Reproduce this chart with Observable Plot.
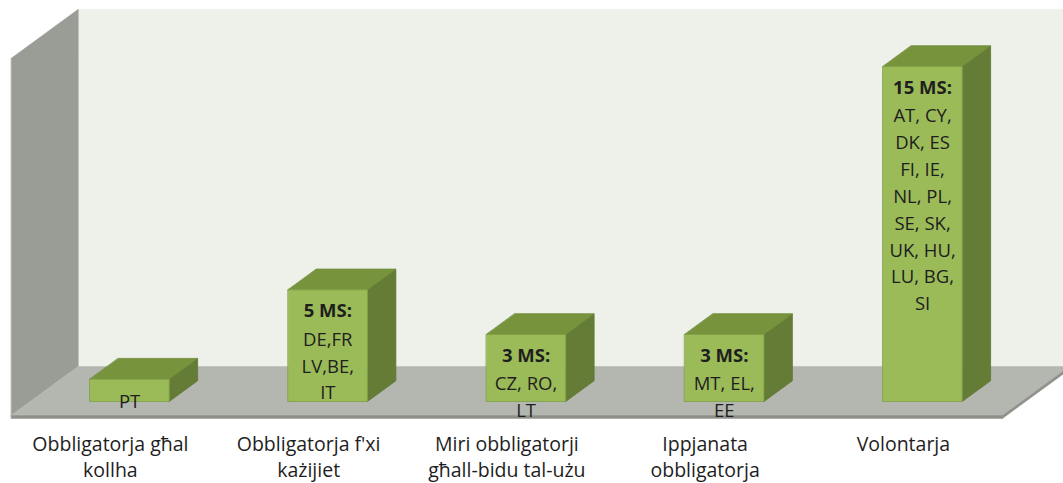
<!DOCTYPE html>
<html>
<head>
<meta charset="utf-8">
<script src="https://cdn.jsdelivr.net/npm/d3@7"></script>
<script src="https://cdn.jsdelivr.net/npm/@observablehq/plot@0.6"></script>
<style>
  html, body { margin: 0; padding: 0; background: #ffffff; }
  #chart svg { display: block; }
</style>
</head>
<body>
<div id="chart"></div>
<script>
// ---- data ----
const categories = [
  "Obbligatorja għal\nkollha",
  "Obbligatorja f'xi\nkażijiet",
  "Miri obbligatorji\ngħall-bidu tal-użu",
  "Ippjanata\nobbligatorja",
  "Volontarja"
];
const values = [1, 5, 3, 3, 15];
const headers = ["", "5 MS:", "3 MS:", "3 MS:", "15 MS:"];
const countries = [
  "PT",
  "DE,FR\nLV,BE,\nIT",
  "CZ, RO,\nLT",
  "MT, EL,\nEE",
  "AT, CY,\nDK, ES\nFI, IE,\nNL, PL,\nSE, SK,\nUK, HU,\nLU, BG,\nSI"
];
const valueMax = 16;

// ---- 3D projection (oblique) ----
const T0 = 0.286, T1 = 0.71;   // bar front / back depth
const DX = 0.338, DY = 2.194;  // depth vector in data units
const HW = 0.2;                // half bar width (category units)
const proj = (i, v, t) => ({x: i + (t - T0) * DX, y: v + (t - T0) * DY});

const rows = categories.map((c, i) => ({i, cat: c, value: values[i], header: headers[i],
  body: headers[i] ? " \n" + countries[i] : countries[i]}));

const faces = {back: [], left: [], floor: [], floorEdge: [], front: [], top: [], side: []};
function face(kind, id, pts) { pts.forEach(([i, v, t]) => faces[kind].push({id, ...proj(i, v, t)})); }

const L = -0.5, R = categories.length - 0.5, E = -0.13;
face("back", "b", [[L, 0, 1], [R, 0, 1], [R, valueMax, 1], [L, valueMax, 1]]);
face("left", "l", [[L, 0, 0], [L, 0, 1], [L, valueMax, 1], [L, valueMax, 0]]);
face("floor", "f", [[L, 0, 0], [R, 0, 0], [R, 0, 1], [L, 0, 1]]);
face("floorEdge", "e1", [[L, 0, 0], [R, 0, 0], [R, E, 0], [L, E, 0]]);
face("floorEdge", "e2", [[R, 0, 0], [R, 0, 1], [R, E, 1], [R, E, 0]]);

rows.forEach(d => {
  const a = d.i - HW, b = d.i + HW, v = d.value;
  face("side", d.i, [[b, 0, T0], [b, 0, T1], [b, v, T1], [b, v, T0]]);
  face("top", d.i, [[a, v, T0], [b, v, T0], [b, v, T1], [a, v, T1]]);
  face("front", d.i, [[a, 0, T0], [b, 0, T0], [b, v, T0], [a, v, T0]]);
});

const poly = (data, fill, stroke, sw = 0.8) =>
  Plot.line(data, {x: "x", y: "y", z: "id", fill, stroke, strokeWidth: sw, curve: "linear-closed"});

const font = "'Open Sans', Lato, sans-serif";

const chart = Plot.plot({
  width: 1063,
  height: 483,
  margin: 0,
  style: {fontFamily: font, background: "#ffffff"},
  x: {type: "linear", domain: [-0.651, 4.711], axis: null},
  y: {type: "linear", domain: [-3.672, 17.958], axis: null},
  marks: [
    poly(faces.back, "#eef0ea", "#eef0ea", 0.5),
    poly(faces.left, "#9a9c96", "#9a9c96", 0.5),
    poly(faces.floor, "#b4b6b0", "#b4b6b0", 0.5),
    poly(faces.floorEdge, "#8e908b", "#8e908b", 0.5),
    poly(faces.side, "#647c35", "#5f7632"),
    poly(faces.top, "#77933c", "#6e8a38"),
    poly(faces.front, "#9bbb59", "#7f9e44"),
    Plot.text(rows, {x: d => proj(d.i, 0, T0).x, y: d => proj(d.i, d.value, T0).y, text: "header",
      lineAnchor: "top", dy: 14, fontSize: 18.5, fontWeight: "bold", fill: "#1e1e1e"}),
    Plot.text(rows, {x: d => proj(d.i, 0, T0).x, y: d => proj(d.i, d.value, T0).y, text: "body",
      lineAnchor: "top", dy: 10, lineHeight: 1.45, fontSize: 18.5, fill: "#1e1e1e"}),
    Plot.text(rows, {x: d => proj(d.i, 0, 0).x, y: d => proj(d.i, 0, 0).y, text: "cat",
      lineAnchor: "top", dy: 17, lineHeight: 1.34, fontSize: 19.5, fill: "#1e1e1e"})
  ]
});
document.getElementById("chart").appendChild(chart);
</script>
</body>
</html>
